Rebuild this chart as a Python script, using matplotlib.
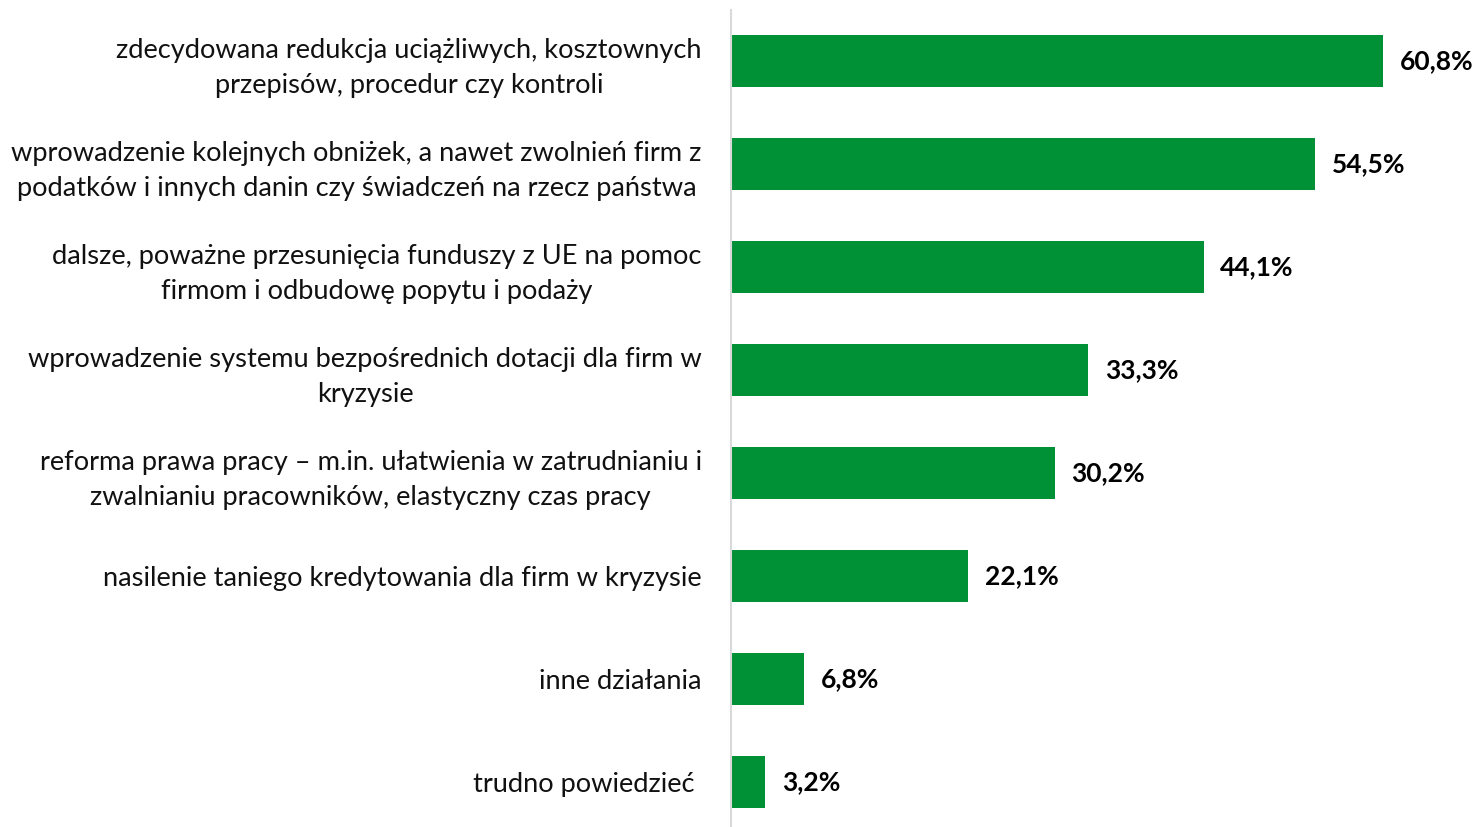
import numpy as np
import matplotlib.pyplot as plt

# answers and shares (%)
labels = [
    'zdecydowana redukcja uciążliwych, kosztownych\nprzepisów, procedur czy kontroli',
    'wprowadzenie kolejnych obniżek, a nawet zwolnień firm z\npodatków i innych danin czy świadczeń na rzecz państwa',
    'dalsze, poważne przesunięcia funduszy z UE na pomoc\nfirmom i odbudowę popytu i podaży',
    'wprowadzenie systemu bezpośrednich dotacji dla firm w\nkryzysie',
    'reforma prawa pracy – m.in. ułatwienia w zatrudnianiu i\nzwalnianiu pracowników, elastyczny czas pracy',
    'nasilenie taniego kredytowania dla firm w kryzysie',
    'inne działania',
    'trudno powiedzieć ',
]
values = [60.8, 54.5, 44.1, 33.3, 30.2, 22.1, 6.8, 3.2]

plt.rcParams['font.family'] = ['Lato', 'DejaVu Sans']

fig = plt.figure(figsize=(14.76, 8.27), dpi=100)
ax = fig.add_axes([731 / 1476, 0, 745 / 1476, 817 / 827])

y = np.arange(len(values))
ax.barh(y, values, height=0.5, color='#009035')
ax.set_xlim(0, 69.5)
ax.set_ylim(7.437, -0.495)

for yi, v in zip(y, values):
    ax.annotate(f'{v:.1f}%'.replace('.', ','), (v, yi), xytext=(12, 0),
                textcoords='offset points', va='center', ha='left',
                fontsize=19, fontweight='bold', color='black')

ax.set_yticks(y)
ax.set_yticklabels(labels, fontsize=19.6, color='#111111',
                   multialignment='center', linespacing=1.5)
ax.tick_params(axis='y', length=0, pad=21)
ax.set_xticks([])
for s in ['top', 'right', 'bottom']:
    ax.spines[s].set_visible(False)
ax.spines['left'].set_color('#d9d9d9')
ax.spines['left'].set_linewidth(1.5)

fig.savefig('out.png', dpi=100)
